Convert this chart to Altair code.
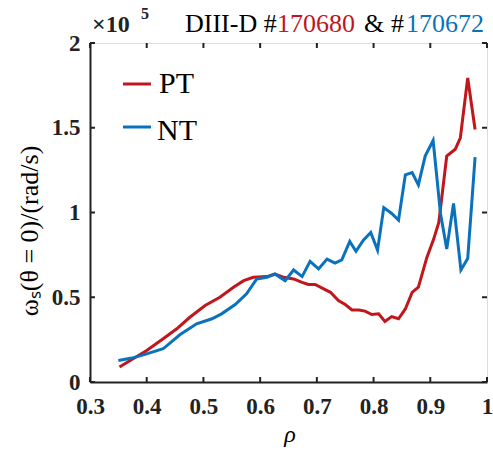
import altair as alt
import pandas as pd

# PT (#170680)
pt_rho = [0.352, 0.376, 0.400, 0.429, 0.453, 0.476, 0.503, 0.529, 0.553, 0.571, 0.588,
          0.612, 0.626, 0.641, 0.659, 0.674, 0.685, 0.697, 0.712, 0.724, 0.738, 0.750,
          0.762, 0.774, 0.785, 0.797, 0.809, 0.820, 0.832, 0.844, 0.856, 0.868, 0.879,
          0.894, 0.906, 0.915, 0.929, 0.944, 0.953, 0.966, 0.979]
pt_omega = [0.088, 0.137, 0.186, 0.255, 0.314, 0.382, 0.451, 0.500, 0.559, 0.598, 0.618,
            0.622, 0.637, 0.618, 0.608, 0.588, 0.575, 0.575, 0.549, 0.529, 0.480, 0.457,
            0.425, 0.425, 0.418, 0.398, 0.402, 0.357, 0.386, 0.373, 0.431, 0.529, 0.559,
            0.735, 0.843, 0.941, 1.333, 1.373, 1.441, 1.794, 1.490]

# NT (#170672)
nt_rho = [0.350, 0.374, 0.397, 0.429, 0.459, 0.488, 0.515, 0.532, 0.556, 0.576, 0.594,
          0.612, 0.626, 0.644, 0.659, 0.674, 0.688, 0.703, 0.718, 0.732, 0.744, 0.758,
          0.769, 0.782, 0.795, 0.807, 0.818, 0.832, 0.844, 0.856, 0.868, 0.879, 0.891,
          0.905, 0.918, 0.929, 0.941, 0.954, 0.966, 0.979]
nt_omega = [0.127, 0.141, 0.163, 0.196, 0.280, 0.343, 0.373, 0.402, 0.457, 0.520, 0.608,
            0.618, 0.637, 0.598, 0.661, 0.622, 0.712, 0.667, 0.725, 0.702, 0.720, 0.829,
            0.771, 0.837, 0.882, 0.778, 1.029, 0.994, 0.955, 1.222, 1.235, 1.163, 1.333,
            1.425, 0.994, 0.784, 1.053, 0.661, 0.729, 1.327]

x_ticks = [0.3, 0.4, 0.5, 0.6, 0.7, 0.8, 0.9, 1.0]
y_ticks = [0, 0.5, 1, 1.5, 2]

RED = "#C0161C"
BLUE = "#0A72BD"
SERIF = "Liberation Serif"
W, H = 397, 339

df = pd.concat([
    pd.DataFrame({"rho": pt_rho, "omega": pt_omega, "series": "PT"}),
    pd.DataFrame({"rho": nt_rho, "omega": nt_omega, "series": "NT"}),
])
xt = pd.DataFrame({"v": x_ticks})
yt = pd.DataFrame({"v": y_ticks})
one = alt.InlineData(values=[{"a": 1}])

xscale = alt.Scale(domain=[0.3, 1.0], nice=False, zero=False)
yscale = alt.Scale(domain=[0, 2], nice=False)

lines = alt.Chart(df).mark_line(strokeWidth=3, clip=True).encode(
    x=alt.X("rho:Q", scale=xscale,
            axis=alt.Axis(values=x_ticks, format="~g", title=None, grid=False,
                          tickSize=0, labelPadding=13, domainColor="#222222", domainWidth=2,
                          labelFont=SERIF, labelFontWeight="bold", labelFontSize=23,
                          labelColor="#222222", labelFlush=False)),
    y=alt.Y("omega:Q", scale=yscale,
            axis=alt.Axis(values=y_ticks, format="~g", title=None, grid=False,
                          tickSize=0, labelPadding=10, domainColor="#222222", domainWidth=2,
                          labelFont=SERIF, labelFontWeight="bold", labelFontSize=23,
                          labelColor="#222222", labelFlush=False)),
    color=alt.Color("series:N", scale=alt.Scale(domain=["PT", "NT"], range=[RED, BLUE]),
                    legend=None),
    detail="series:N",
)

tk = dict(color="#222222", strokeWidth=2)
xb = alt.Chart(xt).mark_rule(**tk).encode(x=alt.X("v:Q", scale=xscale), y=alt.value(H), y2=alt.value(H - 5))
xtp = alt.Chart(xt).mark_rule(**tk).encode(x=alt.X("v:Q", scale=xscale), y=alt.value(0), y2=alt.value(5))
yl = alt.Chart(yt).mark_rule(**tk).encode(y=alt.Y("v:Q", scale=yscale), x=alt.value(0), x2=alt.value(5))
yr = alt.Chart(yt).mark_rule(**tk).encode(y=alt.Y("v:Q", scale=yscale), x=alt.value(W), x2=alt.value(W - 5))


def txt(s, x, y, size, color="black", weight="normal", style="normal", angle=0, align="left", font=SERIF):
    kw = dict(text=s, fontSize=size, color=color, fontWeight=weight, fontStyle=style,
              align=align, baseline="alphabetic", font=font)
    if angle:
        kw["angle"] = angle
    return alt.Chart(one).mark_text(**kw).encode(x=alt.value(x), y=alt.value(y))


def seg(x1, x2, y, color):
    return alt.Chart(one).mark_rule(color=color, strokeWidth=3).encode(
        x=alt.value(x1), x2=alt.value(x2), y=alt.value(y))


texts = [
    txt("DIII-D #", 95, -11, 26),
    txt("170680", 187, -11, 26, RED),
    txt("&", 274, -11, 26),
    txt("#", 301, -11, 26),
    txt("170672", 316, -11, 26, BLUE),
    txt("×10", 2, -11, 24, color="#222222", weight="bold"),
    txt("5", 51, -24, 16, color="#222222", weight="bold"),
    seg(33, 61, 41, RED),
    seg(33, 61, 84, BLUE),
    txt("PT", 69, 50, 30),
    txt("NT", 67, 97, 30),
    txt("ρ", 200, 399, 24, style="italic", align="center"),
    txt("ωₛ(θ = 0)/(rad/s)", -52, 188, 26, angle=270, align="center"),
]

chart = alt.layer(lines, xb, xtp, yl, yr, *texts).properties(
    width=W, height=H,
    autosize=alt.AutoSizeParams(type="none"),
    padding={"left": 90, "top": 43, "right": 6, "bottom": 69},
).configure_view(stroke="#222222", strokeWidth=2).configure(background="white")

chart.save("out.html", embed_options={"renderer": "svg", "actions": False})
